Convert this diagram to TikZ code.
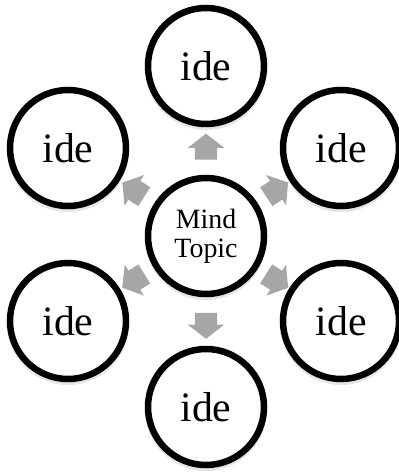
\documentclass[tikz,border=0pt]{standalone}
\usepackage{fontspec}
\setmainfont{Liberation Serif}
\usetikzlibrary{shapes.arrows,shadows,backgrounds}
\definecolor{arrowgray}{RGB}{166,166,166}

\begin{document}
\begin{tikzpicture}[x=1bp, y=-1bp,
    idea/.style = {circle, draw, line width=6.5bp, fill=white, minimum size=116bp, inner sep=0pt,
        font=\fontsize{42}{48}\selectfont,
        drop shadow={shadow xshift=0bp, shadow yshift=-3bp, shadow scale=1.05, opacity=0.2}},
    topic/.style = {idea, font=\fontsize{28}{29}\selectfont, align=center},
    pointer/.style = {single arrow, fill=arrowgray, draw=none, inner xsep=0pt, inner ysep=11bp,
        minimum height=26bp, single arrow head extend=7bp,
        single arrow tip angle=104, sloped, allow upside down}]
    % Frame of the picture
    \useasboundingbox (0,0) rectangle (398,474);

    % Center topic
    \node[topic] (mind) at (206,236) {Mind\\Topic};

    % Ideas round it
    \node[idea] (top)      at (206,66)  {ide};
    \node[idea] (upleft)   at (68,148)  {ide};
    \node[idea] (upright)  at (341,148) {ide};
    \node[idea] (lowleft)  at (68,321)  {ide};
    \node[idea] (lowright) at (341,321) {ide};
    \node[idea] (bottom)   at (206,407) {ide};

    % Arrows from the topic
    \begin{scope}[on background layer]
        \foreach \n in {top,upleft,upright,lowleft,lowright,bottom}
            \path (mind) -- node[pointer, pos=0.5] (to-\n) {} (\n);
    \end{scope}
\end{tikzpicture}
\end{document}
